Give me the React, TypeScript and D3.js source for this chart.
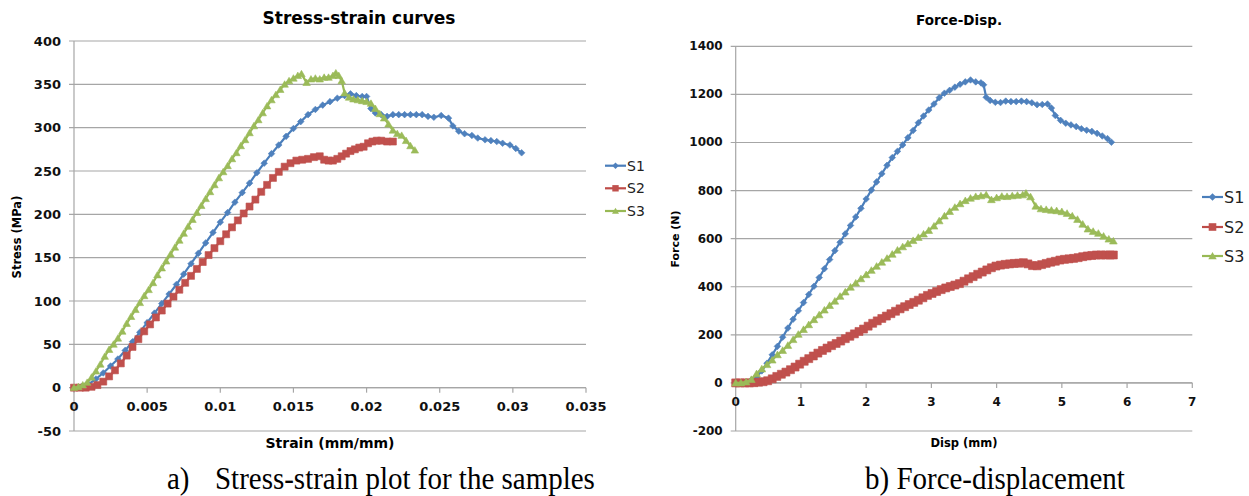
import React from "react";
import * as d3 from "d3";

// ---------- DATA ----------
const seriesNames = ["S1", "S2", "S3"];

// Stress-strain: [strain (mm/mm), stress (MPa)]
const stressS1: [number, number][] = [
  [0, 0], [0.0005, 1], [0.001, 4], [0.0015, 10], [0.002, 17], [0.0025, 25], [0.003, 33], [0.0035, 43],
  [0.004, 53], [0.0045, 64], [0.005, 75], [0.0055, 86], [0.006, 97], [0.0065, 108], [0.007, 119],
  [0.0075, 131], [0.008, 143], [0.0085, 155], [0.009, 167], [0.0095, 179], [0.01, 191], [0.0105, 202],
  [0.011, 214], [0.0115, 225], [0.012, 236], [0.0125, 248], [0.013, 259], [0.0135, 270], [0.014, 280],
  [0.0145, 290], [0.015, 299], [0.0155, 307], [0.016, 315], [0.0165, 321], [0.017, 326], [0.0175, 330],
  [0.018, 334], [0.0185, 337], [0.0189, 339], [0.0193, 337], [0.0197, 336], [0.02, 336], [0.0203, 322],
  [0.0206, 317], [0.021, 315], [0.0214, 313], [0.0218, 315], [0.0222, 315], [0.0226, 315], [0.023, 315],
  [0.0234, 315], [0.0238, 315], [0.0242, 313], [0.0246, 312], [0.0251, 314], [0.0256, 311], [0.0259, 302],
  [0.0263, 296], [0.0267, 293], [0.0272, 291], [0.0276, 288], [0.0281, 286], [0.0285, 285], [0.0289, 284],
  [0.0293, 282], [0.0298, 280], [0.0302, 276], [0.0306, 271],
];
const stressS2: [number, number][] = [
  [0, 0], [0.0004, 0], [0.0008, 0], [0.0012, 1], [0.0016, 3], [0.002, 7], [0.0024, 13], [0.0028, 20],
  [0.0032, 28], [0.0036, 37], [0.004, 47], [0.0044, 56], [0.0048, 65], [0.0052, 73], [0.0056, 81],
  [0.006, 89], [0.0064, 97], [0.0068, 105], [0.0072, 113], [0.0076, 121], [0.008, 129], [0.0084, 137],
  [0.0088, 145], [0.0092, 153], [0.0096, 161], [0.01, 169], [0.0104, 177], [0.0108, 185], [0.0112, 193],
  [0.0116, 201], [0.012, 209], [0.0124, 217], [0.0128, 226], [0.0132, 234], [0.0136, 242], [0.014, 249],
  [0.0144, 255], [0.0148, 259], [0.0152, 262], [0.0156, 263], [0.016, 264], [0.0164, 266], [0.0168, 267],
  [0.0171, 263], [0.0174, 262], [0.0177, 262], [0.018, 264], [0.0183, 267], [0.0186, 270], [0.0189, 273],
  [0.0192, 275], [0.0195, 277], [0.0198, 278], [0.0201, 282], [0.0204, 284], [0.0207, 285], [0.021, 285],
  [0.0214, 284], [0.0218, 284],
];
const stressS3: [number, number][] = [
  [0, 0], [0.0003, 1], [0.0006, 3], [0.0009, 6], [0.0012, 12], [0.0015, 19], [0.0018, 27], [0.0021, 36],
  [0.0024, 44], [0.0027, 50], [0.003, 57], [0.0033, 65], [0.0036, 74], [0.0039, 82], [0.0042, 90],
  [0.0045, 98], [0.0048, 106], [0.0051, 113], [0.0054, 121], [0.0057, 130], [0.006, 138], [0.0063, 146],
  [0.0066, 154], [0.0069, 162], [0.0072, 170], [0.0075, 178], [0.0078, 186], [0.0081, 194], [0.0084, 202],
  [0.0087, 210], [0.009, 218], [0.0093, 226], [0.0096, 234], [0.0099, 242], [0.0102, 249], [0.0105, 256],
  [0.0108, 264], [0.0111, 271], [0.0114, 279], [0.0117, 286], [0.012, 294], [0.0123, 302], [0.0126, 309],
  [0.0129, 317], [0.0132, 325], [0.0135, 332], [0.0138, 338], [0.0141, 344], [0.0144, 350], [0.0147, 354],
  [0.015, 357], [0.0153, 360], [0.01555, 362], [0.0159, 352], [0.0162, 356], [0.0165, 357], [0.0168, 356],
  [0.0171, 358], [0.0174, 358], [0.0177, 360], [0.0179, 363], [0.0181, 360], [0.0183, 354], [0.0185, 340],
  [0.0188, 335], [0.0191, 333], [0.0194, 332], [0.0197, 331], [0.02, 330], [0.0203, 328], [0.0206, 322],
  [0.0209, 316], [0.0212, 311], [0.0215, 304], [0.0218, 297], [0.0221, 293], [0.0224, 291], [0.0227, 285],
  [0.023, 279], [0.0233, 274],
];

// Force-displacement: [disp (mm), force (N)]
const forceS1: [number, number][] = [
  [0, 0], [0.08, 0], [0.16, 3], [0.24, 12], [0.32, 24], [0.4, 50], [0.48, 82], [0.56, 117], [0.64, 152],
  [0.72, 190], [0.8, 228], [0.88, 265], [0.96, 300], [1.04, 334], [1.12, 368], [1.2, 402], [1.28, 438],
  [1.36, 475], [1.44, 513], [1.52, 550], [1.6, 585], [1.68, 620], [1.76, 655], [1.84, 690], [1.92, 726],
  [2.0, 765], [2.08, 802], [2.16, 836], [2.24, 870], [2.32, 905], [2.4, 937], [2.48, 963], [2.56, 990],
  [2.64, 1020], [2.72, 1050], [2.8, 1082], [2.88, 1110], [2.96, 1135], [3.04, 1160], [3.12, 1186],
  [3.2, 1205], [3.28, 1217], [3.36, 1230], [3.44, 1242], [3.52, 1252], [3.6, 1260], [3.68, 1252],
  [3.76, 1248], [3.8, 1240], [3.84, 1188], [3.9, 1175], [3.98, 1167], [4.06, 1166], [4.14, 1172],
  [4.22, 1170], [4.3, 1170], [4.38, 1172], [4.46, 1170], [4.54, 1165], [4.62, 1157], [4.7, 1158],
  [4.78, 1160], [4.84, 1143], [4.9, 1112], [4.98, 1092], [5.06, 1080], [5.14, 1073], [5.22, 1066],
  [5.3, 1057], [5.38, 1051], [5.46, 1046], [5.54, 1038], [5.62, 1027], [5.7, 1016], [5.76, 1001],
];
const forceS2: [number, number][] = [
  [0, 0], [0.07, 0], [0.14, 0], [0.21, 0], [0.28, 1], [0.35, 3], [0.42, 5], [0.49, 9], [0.56, 17],
  [0.63, 27], [0.7, 36], [0.77, 45], [0.84, 55], [0.91, 66], [0.98, 78], [1.05, 90], [1.12, 101],
  [1.19, 112], [1.26, 124], [1.33, 135], [1.4, 145], [1.47, 155], [1.54, 164], [1.61, 174], [1.68, 184],
  [1.75, 194], [1.82, 204], [1.89, 214], [1.96, 224], [2.03, 236], [2.1, 248], [2.17, 258], [2.24, 268],
  [2.31, 278], [2.38, 288], [2.45, 298], [2.52, 308], [2.59, 317], [2.66, 326], [2.73, 335], [2.8, 344],
  [2.87, 354], [2.94, 364], [3.01, 372], [3.08, 380], [3.15, 388], [3.22, 395], [3.29, 401], [3.36, 407],
  [3.43, 413], [3.5, 423], [3.57, 433], [3.64, 442], [3.71, 452], [3.78, 461], [3.85, 470], [3.92, 479],
  [3.99, 486], [4.06, 490], [4.13, 493], [4.2, 495], [4.27, 497], [4.34, 498], [4.41, 500], [4.48, 495],
  [4.55, 488], [4.62, 487], [4.69, 492], [4.76, 497], [4.83, 502], [4.9, 506], [4.97, 511], [5.04, 514],
  [5.11, 516], [5.18, 518], [5.25, 521], [5.32, 525], [5.39, 528], [5.46, 530], [5.53, 532], [5.6, 532],
  [5.67, 532], [5.74, 532], [5.79, 532],
];
const forceS3: [number, number][] = [
  [0, 0], [0.08, 0], [0.16, 4], [0.24, 14], [0.32, 38], [0.4, 58], [0.48, 76], [0.56, 95], [0.64, 117],
  [0.72, 135], [0.8, 156], [0.88, 180], [0.96, 202], [1.04, 222], [1.12, 242], [1.2, 263], [1.28, 283],
  [1.36, 303], [1.44, 322], [1.52, 340], [1.6, 360], [1.68, 378], [1.76, 398], [1.84, 415], [1.92, 433],
  [2.0, 450], [2.08, 468], [2.16, 485], [2.24, 502], [2.32, 518], [2.4, 535], [2.48, 552], [2.56, 566],
  [2.64, 579], [2.72, 592], [2.8, 605], [2.88, 619], [2.96, 634], [3.04, 652], [3.12, 674], [3.2, 694],
  [3.28, 713], [3.36, 730], [3.44, 745], [3.52, 758], [3.6, 768], [3.68, 775], [3.76, 778], [3.84, 782],
  [3.92, 762], [4.0, 770], [4.08, 776], [4.16, 775], [4.24, 778], [4.32, 780], [4.4, 782], [4.45, 789],
  [4.52, 774], [4.6, 735], [4.68, 724], [4.76, 721], [4.84, 718], [4.92, 716], [5.0, 712], [5.08, 705],
  [5.16, 694], [5.24, 680], [5.32, 660], [5.4, 640], [5.48, 630], [5.56, 622], [5.64, 610], [5.72, 598],
  [5.79, 590],
];

const strainTicks = [0, 0.005, 0.01, 0.015, 0.02, 0.025, 0.03, 0.035];
const strainTickLabels = ["0", "0.005", "0.01", "0.015", "0.02", "0.025", "0.03", "0.035"];
const stressTicks = [-50, 0, 50, 100, 150, 200, 250, 300, 350, 400];
const dispTicks = [0, 1, 2, 3, 4, 5, 6, 7];
const forceTicks = [-200, 0, 200, 400, 600, 800, 1000, 1200, 1400];

const lineColors = ["#4A7EBB", "#BE4B48", "#98B954"];
const markerColors = ["#4F81BD", "#C0504D", "#9BBB59"];
const markerTypes = ["diamond", "square", "triangle"];

const FONT = "'DejaVu Sans', sans-serif";
const SERIF = "'Liberation Serif', 'Times New Roman', serif";
const GRID = "#A6A6A6";

function markerPath(type: string, r: number): string {
  if (type === "diamond") return `M0,${-r}L${r},0L0,${r}L${-r},0Z`;
  if (type === "square") return `M${-r},${-r}H${r}V${r}H${-r}Z`;
  return `M0,${-r * 1.05}L${r * 1.1},${r * 0.85}L${-r * 1.1},${r * 0.85}Z`;
}

type PanelProps = {
  x: d3.ScaleLinear<number, number>;
  y: d3.ScaleLinear<number, number>;
  xTicks: number[];
  xLabels: string[];
  yTicks: number[];
  series: [number, number][][];
  markerR: number[];
  tickFont: number;
  title: string;
  titleX: number;
  titleY: number;
  titleSize: number;
  xTitle: string;
  xTitleX: number;
  xTitleY: number;
  xTitleSize: number;
  yTitle: string;
  yTitleX: number;
  yTitleY: number;
  yTitleSize: number;
  legendX: number;
  legendY: number[];
  legendFont: number;
  legendR: number;
};

function Panel(p: PanelProps) {
  const [x0, x1] = p.x.range();
  const [yb, yt] = p.y.range();
  const y0 = p.y(0);
  const line = d3
    .line<[number, number]>()
    .x((d) => p.x(d[0]))
    .y((d) => p.y(d[1]));
  return (
    <g>
      {p.yTicks.map((t) => (
        <line key={"g" + t} x1={x0 - 5} x2={x1} y1={p.y(t)} y2={p.y(t)} stroke={GRID} strokeWidth={1.2} />
      ))}
      <line x1={x0} x2={x0} y1={yt} y2={yb} stroke={GRID} strokeWidth={1.2} />
      <line x1={x0} x2={x1} y1={y0} y2={y0} stroke={GRID} strokeWidth={1.2} />
      {p.xTicks.map((t) => (
        <line key={"xt" + t} x1={p.x(t)} x2={p.x(t)} y1={y0} y2={y0 + 5} stroke={GRID} strokeWidth={1.2} />
      ))}
      {p.yTicks.map((t) => (
        <text
          key={"yl" + t}
          x={x0 - 13}
          y={p.y(t)}
          textAnchor="end"
          dominantBaseline="central"
          fontFamily={FONT}
          fontWeight="bold"
          fontSize={p.tickFont}
          fill="#111"
        >
          {t}
        </text>
      ))}
      {p.xTicks.map((t, i) => (
        <text
          key={"xl" + t}
          x={p.x(t)}
          y={y0 + 19}
          textAnchor="middle"
          dominantBaseline="central"
          fontFamily={FONT}
          fontWeight="bold"
          fontSize={p.tickFont}
          fill="#111"
        >
          {p.xLabels[i]}
        </text>
      ))}
      {p.series.map((s, i) => (
        <g key={"s" + i}>
          <path d={line(s) || ""} fill="none" stroke={lineColors[i]} strokeWidth={2.2} strokeLinejoin="round" />
          {s.map((d, j) => (
            <path
              key={j}
              d={markerPath(markerTypes[i], p.markerR[i])}
              transform={`translate(${p.x(d[0])},${p.y(d[1])})`}
              fill={markerColors[i]}
              stroke={markerColors[i]}
              strokeWidth={0.6}
            />
          ))}
        </g>
      ))}
      <text x={p.titleX} y={p.titleY} textAnchor="middle" fontFamily={FONT} fontWeight="bold" fontSize={p.titleSize} fill="#000">
        {p.title}
      </text>
      <text x={p.xTitleX} y={p.xTitleY} textAnchor="middle" fontFamily={FONT} fontWeight="bold" fontSize={p.xTitleSize} fill="#000">
        {p.xTitle}
      </text>
      <text
        transform={`translate(${p.yTitleX},${p.yTitleY}) rotate(-90)`}
        textAnchor="middle"
        dominantBaseline="central"
        fontFamily={FONT}
        fontWeight="bold"
        fontSize={p.yTitleSize}
        fill="#000"
      >
        {p.yTitle}
      </text>
      {seriesNames.map((n, i) => (
        <g key={"lg" + n} transform={`translate(${p.legendX},${p.legendY[i]})`}>
          <line x1={0} x2={21} y1={0} y2={0} stroke={lineColors[i]} strokeWidth={2.2} />
          <path d={markerPath(markerTypes[i], p.legendR)} transform="translate(10.5,0)" fill={markerColors[i]} />
          <text x={22} y={0} dominantBaseline="central" fontFamily={FONT} fontSize={p.legendFont} fill="#222">
            {n}
          </text>
        </g>
      ))}
    </g>
  );
}

export default function App() {
  const xL = d3.scaleLinear().domain([0, 0.035]).range([74, 586]);
  const yL = d3.scaleLinear().domain([-50, 400]).range([431, 41]);
  const xR = d3.scaleLinear().domain([0, 7]).range([735.7, 1192.3]);
  const yR = d3.scaleLinear().domain([-200, 1400]).range([431, 46.3]);

  return (
    <svg
      width={1249}
      height={496}
      viewBox="0 0 1249 496"
      style={{ position: "absolute", left: 0, top: 0, background: "#fff" }}
    >
      <rect x={0} y={0} width={1249} height={496} fill="#fff" />
      <Panel
        x={xL}
        y={yL}
        xTicks={strainTicks}
        xLabels={strainTickLabels}
        yTicks={stressTicks}
        series={[stressS1, stressS2, stressS3]}
        markerR={[3.3, 3.5, 3.4]}
        tickFont={13}
        title="Stress-strain curves"
        titleX={359}
        titleY={24}
        titleSize={17}
        xTitle="Strain (mm/mm)"
        xTitleX={330}
        xTitleY={448}
        xTitleSize={14}
        yTitle="Stress (MPa)"
        yTitleX={17}
        yTitleY={237}
        yTitleSize={11.5}
        legendX={605}
        legendY={[165.7, 188.3, 211]}
        legendFont={14}
        legendR={3.2}
      />
      <Panel
        x={xR}
        y={yR}
        xTicks={dispTicks}
        xLabels={dispTicks.map(String)}
        yTicks={forceTicks}
        series={[forceS1, forceS2, forceS3]}
        markerR={[3.3, 4, 3.5]}
        tickFont={12}
        title="Force-Disp."
        titleX={959}
        titleY={25}
        titleSize={13.5}
        xTitle="Disp (mm)"
        xTitleX={964}
        xTitleY={447}
        xTitleSize={11.5}
        yTitle="Force (N)"
        yTitleX={675}
        yTitleY={239}
        yTitleSize={11}
        legendX={1202}
        legendY={[197, 227, 256]}
        legendFont={16}
        legendR={3.8}
      />
      <g transform="translate(0,489) scale(1,1.12)">
        <text x={167} y={0} fontFamily={SERIF} fontSize={29} fill="#000">
          a)
        </text>
        <text x={215} y={0} fontFamily={SERIF} fontSize={29} fill="#000">
          Stress-strain plot for the samples
        </text>
        <text x={865} y={0} fontFamily={SERIF} fontSize={29} fill="#000">
          b) Force-displacement
        </text>
      </g>
    </svg>
  );
}
